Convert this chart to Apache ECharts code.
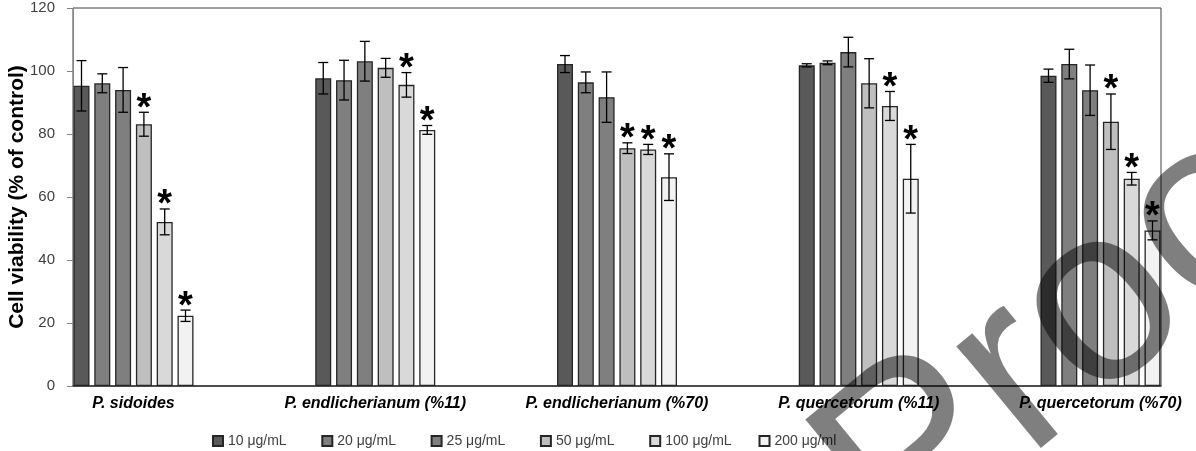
<!DOCTYPE html>
<html>
<head>
<meta charset="utf-8">
<script src="https://cdn.jsdelivr.net/npm/echarts@6/dist/echarts.min.js"></script>
<style>
  html, body { margin: 0; padding: 0; background: #fff; }
  #chart { width: 1196px; height: 451px; }
</style>
</head>
<body>
<div id="chart"></div>
<script>
const categories = ['P. sidoides', 'P. endlicherianum (%11)', 'P. endlicherianum (%70)', 'P. quercetorum (%11)', 'P. quercetorum (%70)']
const concentrations = ['10 μg/mL', '20 μg/mL', '25 μg/mL', '50 μg/mL', '100 μg/mL', '200 μg/ml']
const yTicks = [0, 20, 40, 60, 80, 100, 120]

// mean viability per concentration, one value per extract
const c10 = [95.3, 97.7, 102.2, 101.8, 98.5]
const c20 = [96.1, 97.1, 96.4, 102.6, 102.2]
const c25 = [94.0, 103.1, 91.7, 106.0, 93.9]
const c50 = [83.1, 101.0, 75.5, 96.1, 83.9]
const c100 = [52.1, 95.6, 75.1, 88.9, 65.8]
const c200 = [22.3, 81.3, 66.3, 65.8, 49.4]

// standard deviations
const e10 = [8.0, 5.0, 2.7, 0.5, 2.1]
const e20 = [3.0, 6.3, 3.3, 0.6, 4.7]
const e25 = [7.1, 6.3, 8.0, 4.7, 8.0]
const e50 = [3.8, 3.0, 1.7, 7.8, 8.8]
const e100 = [4.1, 3.9, 1.6, 4.6, 2.0]
const e200 = [1.8, 1.4, 7.4, 10.9, 3.0]

// 1 = significant (*)
const s10 = [0, 0, 0, 0, 0]
const s20 = [0, 0, 0, 0, 0]
const s25 = [0, 0, 0, 0, 0]
const s50 = [1, 0, 1, 0, 1]
const s100 = [1, 1, 1, 1, 1]
const s200 = [1, 1, 1, 1, 1]

const values = [c10, c20, c25, c50, c100, c200]
const errors = [e10, e20, e25, e50, e100, e200]
const stars = [s10, s20, s25, s50, s100, s200]
const colors = ['#595959', '#7f7f7f', '#7f7f7f', '#bfbfbf', '#d9d9d9', '#f2f2f2']

const FONT = 'Liberation Sans'
const BAR_W = 16
const BAR_GAP = '30%'
const LEGEND_LEFT = 207
const LEGEND_PITCH = 109.3

const errorRows = []
values.forEach((vals, k) => {
  vals.forEach((v, i) => {
    errorRows.push([i, v, errors[k][i], stars[k][i], k])
  })
})

const barSeries = concentrations.map((name, k) => ({
  name,
  type: 'bar',
  xAxisIndex: 1,
  yAxisIndex: 1,
  data: values[k],
  barWidth: BAR_W,
  barGap: BAR_GAP,
  itemStyle: {
    color: colors[k],
    borderColor: '#262626',
    borderWidth: 1.3,
  },
}))

// Excel spaces legend entries evenly, so one legend box per entry
const legends = concentrations.map((name, k) => ({
  data: [name],
  left: LEGEND_LEFT + k * LEGEND_PITCH,
  top: 429,
  icon: 'rect',
  itemWidth: 10,
  itemHeight: 10,
  textStyle: { fontSize: 14, color: '#404040', fontFamily: FONT },
}))

const chart = echarts.init(document.getElementById('chart'))
chart.setOption({
  animation: false,
  backgroundColor: '#fff',
  textStyle: { fontFamily: FONT },
  grid: [
    { left: 73, right: 35, top: 8, bottom: 65, outerBoundsMode: 'none', show: true, borderColor: '#404040', borderWidth: 1 },
    { left: 133.5, right: 95.5, top: 8, bottom: 65, outerBoundsMode: 'none' },
  ],
  xAxis: [{
    gridIndex: 0,
    type: 'value',
    min: 0,
    max: 1,
    axisLine: { show: true, lineStyle: { color: '#333', width: 1.5 } },
    axisTick: { show: false },
    axisLabel: { show: false },
    splitLine: { show: false },
  }, {
    gridIndex: 1,
    type: 'category',
    data: categories,
    boundaryGap: false,
    axisLine: { show: false },
    axisTick: { show: false },
    axisLabel: {
      interval: 0,
      margin: 10,
      fontSize: 16,
      fontWeight: 'bold',
      fontStyle: 'italic',
      color: '#000',
      fontFamily: FONT,
    },
  }],
  yAxis: [{
    gridIndex: 0,
    type: 'value',
    min: yTicks[0],
    max: yTicks[yTicks.length - 1],
    interval: 20,
    axisLine: { show: true, lineStyle: { color: '#868686' } },
    axisTick: { show: true, length: 6, lineStyle: { color: '#868686' } },
    axisLabel: { margin: 18, fontSize: 15, color: '#404040', fontFamily: FONT },
    splitLine: { show: false },
    name: 'Cell viability (% of control)',
    nameLocation: 'middle',
    nameGap: 45,
    nameMoveOverlap: false,
    nameTextStyle: { fontSize: 21, fontWeight: 'bold', color: '#000', fontFamily: FONT },
  }, {
    gridIndex: 1,
    type: 'value',
    min: yTicks[0],
    max: yTicks[yTicks.length - 1],
    show: false,
  }],
  legend: legends,
  series: [
    ...barSeries,
    {
      type: 'custom',
      xAxisIndex: 1,
      yAxisIndex: 1,
      z: 5,
      data: errorRows,
      renderItem: (params, api) => {
        const i = api.value(0)
        const v = api.value(1)
        const e = api.value(2)
        const star = api.value(3)
        const k = api.value(4)
        const layout = api.barLayout({ count: concentrations.length, barWidth: BAR_W, barGap: BAR_GAP })
        const dx = layout[k].offsetCenter
        const top = api.coord([i, v + e])
        const bot = api.coord([i, v - e])
        const x = top[0] + dx
        const line = { stroke: '#000', lineWidth: 1.3 }
        const children = [
          { type: 'line', shape: { x1: x, y1: top[1], x2: x, y2: bot[1] }, style: line },
          { type: 'line', shape: { x1: x - 5, y1: top[1], x2: x + 5, y2: top[1] }, style: line },
          { type: 'line', shape: { x1: x - 5, y1: bot[1], x2: x + 5, y2: bot[1] }, style: line },
        ]
        if (star) {
          children.push({
            type: 'text',
            x,
            y: top[1] - 3,
            style: {
              text: '*',
              font: 'bold 38px ' + FONT,
              fill: '#000',
              align: 'center',
              verticalAlign: 'middle',
            },
          })
        }
        return { type: 'group', children }
      },
    },
  ],
  graphic: [{
    type: 'text',
    x: 855,
    y: 512,
    rotation: 0.69,
    z: 100,
    silent: true,
    style: {
      text: 'Proof',
      font: '250px ' + FONT,
      fill: 'rgba(0,0,0,0.5)',
      align: 'left',
      verticalAlign: 'middle',
    },
  }],
})
</script>
</body>
</html>
